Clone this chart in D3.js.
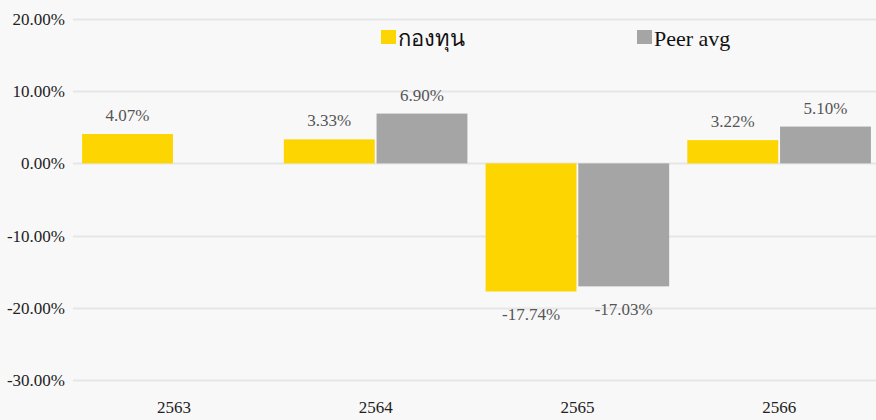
<!DOCTYPE html>
<html><head><meta charset="utf-8">
<script src="https://cdn.jsdelivr.net/npm/d3@7"></script>
<style>
html,body{margin:0;padding:0;background:#f8f8f8;}
svg text{font-family:"Times New Roman","Liberation Serif","DejaVu Serif",serif !important;}
</style></head>
<body><svg id="c" width="876" height="420"></svg>
<script>
const categories = ["2563","2564","2565","2566"];
const seriesNames = ["กองทุน","Peer avg"];
const fundValues = [4.07, 3.33, -17.74, 3.22];
const peerValues = [null, 6.90, -17.03, 5.10];
const yTicks = [20, 10, 0, -10, -20, -30];
const colors = ["#FDD500", "#A5A5A5"];

const loc = d3.formatLocale({decimal: ".", thousands: ",", grouping: [3], currency: ["", ""], minus: "-"});
const pct = v => loc.format(".2f")(v) + "%";

const svg = d3.select("#c");
const W = 876, H = 420;
svg.append("rect").attr("width", W).attr("height", H).attr("fill", "#f8f8f8");

const y = d3.scaleLinear().domain([-30, 20]).range([380, 19]);
const x = d3.scaleBand().domain(categories).range([73, 880]).paddingInner(0.09).paddingOuter(0.045);
const xs = d3.scaleBand().domain([0,1]).range([0, x.bandwidth()]).paddingInner(0.02);

// gridlines
svg.append("g").selectAll("line").data(yTicks).join("line")
  .attr("x1", 73).attr("x2", W)
  .attr("y1", d => Math.round(y(d)) + 0.5).attr("y2", d => Math.round(y(d)) + 0.5)
  .attr("stroke", "#e6e6e6").attr("stroke-width", 2);

// y axis labels
const yAxis = d3.axisLeft(y).tickValues(yTicks).tickSize(0).tickPadding(0).tickFormat(pct);
const ya = svg.append("g").attr("transform", "translate(65,0)").call(yAxis);
ya.select(".domain").remove();
ya.selectAll("text").attr("font-size", 17).attr("fill", "#222");

// x axis labels
const xAxis = d3.axisBottom(x).tickSize(0).tickPadding(0);
const xa = svg.append("g").attr("transform", "translate(0,401)").call(xAxis);
xa.select(".domain").remove();
xa.selectAll("text").attr("font-size", 17).attr("fill", "#222");

// bars
const data = [];
categories.forEach((c, i) => {
  [fundValues[i], peerValues[i]].forEach((v, s) => {
    if (v !== null) data.push({c, s, v});
  });
});
svg.append("g").selectAll("rect").data(data).join("rect")
  .attr("x", d => x(d.c) + xs(d.s))
  .attr("width", xs.bandwidth())
  .attr("y", d => y(Math.max(0, d.v)))
  .attr("height", d => Math.abs(y(d.v) - y(0)))
  .attr("fill", d => colors[d.s]);

// value labels
svg.append("g").selectAll("text").data(data).join("text")
  .attr("x", d => x(d.c) + xs(d.s) + xs.bandwidth() / 2)
  .attr("y", d => d.v >= 0 ? y(d.v) - 13 : y(d.v) + 29)
  .attr("text-anchor", "middle")
  .attr("font-size", 17).attr("fill", "#555")
  .text(d => pct(d.v));

// legend
const legX = [381, 637];
const leg = svg.append("g").selectAll("g").data(seriesNames).join("g")
  .attr("transform", (d, i) => `translate(${legX[i]},30)`);
leg.append("rect").attr("width", 15).attr("height", 14).attr("fill", (d, i) => colors[i]);
leg.append("text").attr("x", 17).attr("y", 16).attr("font-size", 22).attr("fill", "#111")
  .text(d => d);
</script></body></html>
